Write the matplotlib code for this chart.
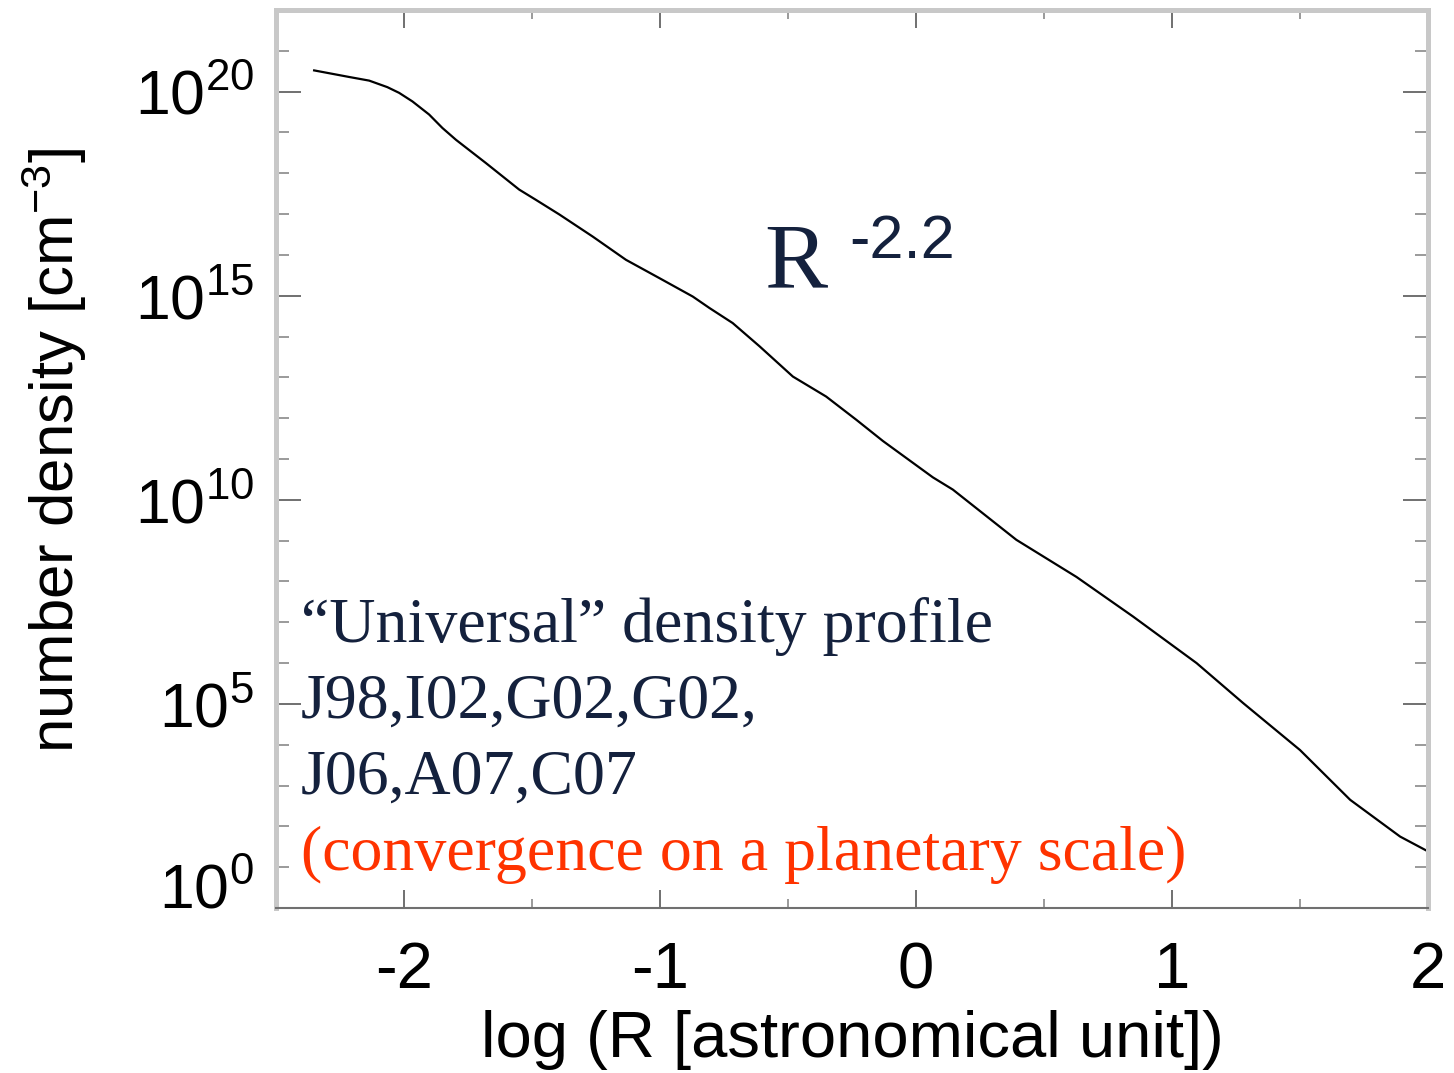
import numpy as np
import matplotlib
matplotlib.use("Agg")
import matplotlib.pyplot as plt
from matplotlib.ticker import NullFormatter

# log10 of radius [AU] and log10 of number density [cm^-3]
log_r = [-2.351, -2.215, -2.136, -2.065, -2.019, -1.967, -1.902, -1.850, -1.797,
         -1.680, -1.550, -1.485, -1.393, -1.263, -1.133, -1.002, -0.872, -0.807,
         -0.716, -0.611, -0.481, -0.351, -0.233, -0.129, 0.066, 0.144, 0.392,
         0.627, 0.848, 1.096, 1.278, 1.500, 1.696, 1.891, 2.002]
log_n = [20.52, 20.36, 20.27, 20.11, 19.97, 19.76, 19.44, 19.11, 18.82,
         18.25, 17.60, 17.35, 16.99, 16.45, 15.88, 15.43, 14.98, 14.70,
         14.33, 13.76, 13.02, 12.53, 11.96, 11.44, 10.55, 10.25, 9.02,
         8.11, 7.14, 6.00, 5.02, 3.87, 2.65, 1.75, 1.38]

xticks = [-2, -1, 0, 1, 2]
xtick_labels = ['-2', '-1', '0', '1', '2']
xminor = [-1.5, -0.5, 0.5, 1.5]
ymajor_pow = [0, 5, 10, 15, 20]
ytick_labels = [r'$\mathregular{10^{%d}}$' % p for p in ymajor_pow]

info_lines = ['\u201cUniversal\u201d density profile',
              'J98,I02,G02,G02,',
              'J06,A07,C07']
red_line = '(convergence on a planetary scale)'

plt.rcParams['font.family'] = ['Liberation Sans', 'DejaVu Sans']
plt.rcParams['mathtext.fontset'] = 'custom'
plt.rcParams['mathtext.rm'] = 'Liberation Sans'
plt.rcParams['mathtext.it'] = 'Liberation Sans:italic'

navy = '#14213d'

fig = plt.figure(figsize=(14.54, 10.73), dpi=100)
ax = fig.add_axes([0.18982, 0.15377, 0.79230, 0.83691])

ax.plot(log_r, 10.0 ** np.array(log_n), color='black', lw=1.6)
ax.set_yscale('log')
ax.set_xlim(-2.5, 2)
ax.set_ylim(1, 1e22)

ax.set_yticks([10.0 ** p for p in ymajor_pow], labels=ytick_labels)
ax.set_yticks([10.0 ** p for p in range(1, 23) if p % 5], minor=True)
ax.yaxis.set_minor_formatter(NullFormatter())
ax.set_xticks(xticks, labels=xtick_labels)
ax.set_xticks(xminor, minor=True)

ax.tick_params(which='both', direction='in', top=True, right=True,
               color='#707070', width=1.4)
ax.tick_params(axis='y', which='major', length=18, pad=16, labelsize=45)
ax.tick_params(axis='y', which='minor', length=9.4, color='#9a9a9a')
ax.tick_params(axis='x', which='major', length=13, pad=24, labelsize=47)
ax.tick_params(axis='x', which='minor', length=6.5, color='#9a9a9a')
ax.get_yticklabels()[0].set_va('baseline')

for s in ['left', 'top', 'right']:
    ax.spines[s].set_color('#c8c8c8')
    ax.spines[s].set_linewidth(3.6)
ax.spines['bottom'].set_color('#707070')
ax.spines['bottom'].set_linewidth(1.5)

ax.set_xlabel('log (R [astronomical unit])', fontsize=47, labelpad=6)
ax.set_ylabel(r'number density [cm$^{\mathregular{-3}}$]', fontsize=44.5)
ax.yaxis.set_label_coords(-0.162, 0.51)

# slope annotation
ax.text(0.424, 0.6915, 'R', transform=ax.transAxes, fontsize=68,
        family='Liberation Serif', color=navy, va='baseline')
ax.text(0.498, 0.7238, '-2.2', transform=ax.transAxes, fontsize=44,
        color=navy, va='baseline')

# reference block
ys = [0.296, 0.212, 0.127]
for txt, y in zip(info_lines, ys):
    ax.text(0.0217, y, txt, transform=ax.transAxes, fontsize=46,
            family='Liberation Serif', color=navy, va='baseline')
ax.text(0.0217, 0.042, red_line, transform=ax.transAxes, fontsize=46,
        family='Liberation Serif', color='#ff3300', va='baseline')

fig.savefig('out.png', dpi=100)
